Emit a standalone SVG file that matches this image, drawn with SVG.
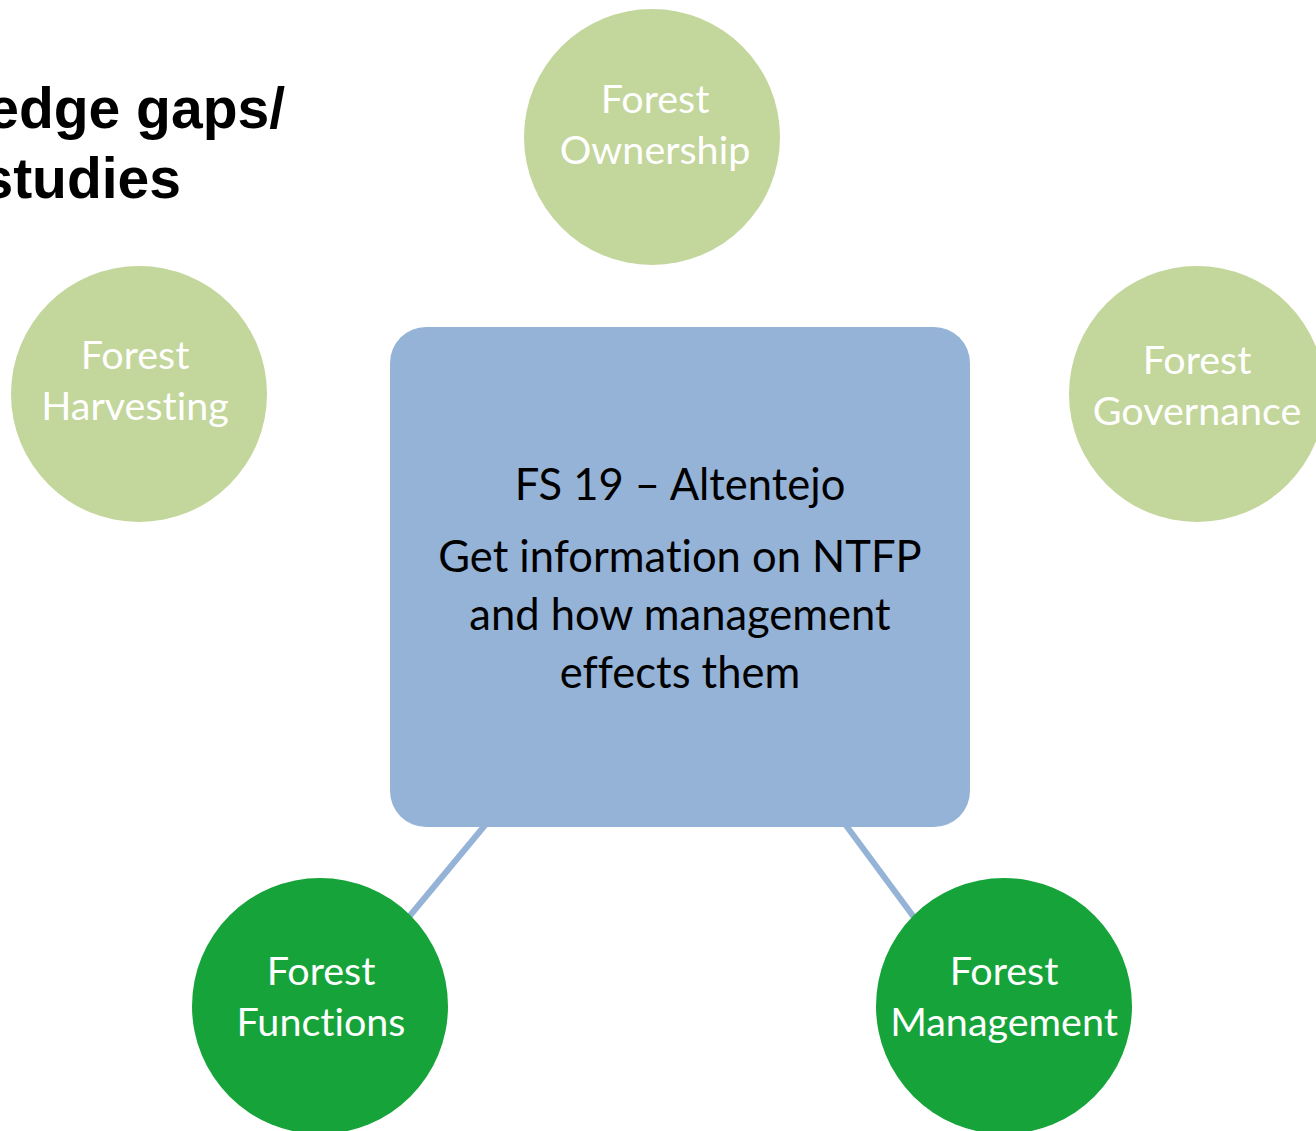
<svg xmlns="http://www.w3.org/2000/svg" width="1316" height="1131" viewBox="0 0 1316 1131">
<style>
.title{font-family:"Liberation Sans",Arial,sans-serif;font-weight:bold;font-size:57px;fill:#000}
.light{fill:#C3D69B}
.dark{fill:#16A43A}
.ctext{font-family:Lato,"Open Sans",sans-serif;font-size:39.5px;fill:#fff;text-anchor:middle;font-variant-ligatures:none}
.mtext{font-family:Lato,"Open Sans",sans-serif;font-size:43.5px;fill:#000;text-anchor:middle;font-variant-ligatures:none}
.conn{stroke:#95B3D7;stroke-width:6;fill:none}
</style>
<rect width="1316" height="1131" fill="#fff"/>
<g id="title">
<text class="title" x="285" y="128" text-anchor="end">edge gaps/</text>
<text class="title" x="181" y="198" text-anchor="end">studies</text>
</g>
<g id="connectors">
<line class="conn" x1="486" y1="824" x2="408" y2="918"/>
<line class="conn" x1="845" y1="824" x2="916" y2="920"/>
</g>
<g id="center">
<rect x="390" y="327" width="580" height="500" rx="36" fill="#95B3D7"/>
<text class="mtext" x="680" y="500">FS 19 – Altentejo</text>
<text class="mtext" x="680" y="572">Get information on NTFP</text>
<text class="mtext" x="680" y="630">and how management</text>
<text class="mtext" x="680" y="688">effects them</text>
</g>
<g id="ownership">
<circle class="light" cx="652" cy="137" r="128"/>
<text class="ctext" x="655" y="113">Forest</text>
<text class="ctext" x="655" y="164">Ownership</text>
</g>
<g id="harvesting">
<circle class="light" cx="139" cy="394" r="128"/>
<text class="ctext" x="135" y="369">Forest</text>
<text class="ctext" x="135" y="420">Harvesting</text>
</g>
<g id="governance">
<circle class="light" cx="1197" cy="394" r="128"/>
<text class="ctext" x="1197" y="374">Forest</text>
<text class="ctext" x="1197" y="425">Governance</text>
</g>
<g id="functions">
<circle class="dark" cx="320" cy="1006" r="128"/>
<text class="ctext" x="321" y="985">Forest</text>
<text class="ctext" x="321" y="1036">Functions</text>
</g>
<g id="management">
<circle class="dark" cx="1004" cy="1006" r="128"/>
<text class="ctext" x="1004" y="985">Forest</text>
<text class="ctext" x="1004" y="1036">Management</text>
</g>
</svg>
